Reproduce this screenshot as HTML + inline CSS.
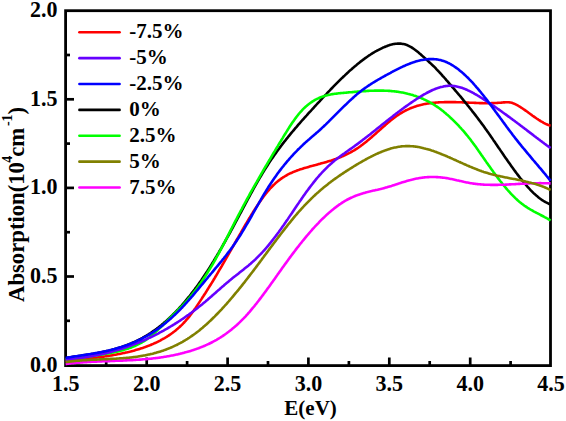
<!DOCTYPE html>
<html><head><meta charset="utf-8"><style>
html,body{margin:0;padding:0;background:#fff;width:566px;height:421px;overflow:hidden}
svg{display:block}
text{font-family:"Liberation Serif",serif;font-weight:bold;fill:#000}
</style></head><body>
<svg width="566" height="421" viewBox="0 0 566 421">
<rect width="566" height="421" fill="#fff"/>
<g stroke="#000" stroke-width="2.7" stroke-linecap="butt"><line x1="146.7" y1="365.6" x2="146.7" y2="357.5"/><line x1="227.6" y1="365.6" x2="227.6" y2="357.5"/><line x1="308.4" y1="365.6" x2="308.4" y2="357.5"/><line x1="389.3" y1="365.6" x2="389.3" y2="357.5"/><line x1="470.2" y1="365.6" x2="470.2" y2="357.5"/><line x1="106.2" y1="365.6" x2="106.2" y2="361"/><line x1="187.1" y1="365.6" x2="187.1" y2="361"/><line x1="268.0" y1="365.6" x2="268.0" y2="361"/><line x1="348.9" y1="365.6" x2="348.9" y2="361"/><line x1="429.7" y1="365.6" x2="429.7" y2="361"/><line x1="510.6" y1="365.6" x2="510.6" y2="361"/><line x1="65.6" y1="276.5" x2="74" y2="276.5"/><line x1="65.6" y1="187.9" x2="74" y2="187.9"/><line x1="65.6" y1="99.3" x2="74" y2="99.3"/><line x1="65.6" y1="320.8" x2="70" y2="320.8"/><line x1="65.6" y1="232.2" x2="70" y2="232.2"/><line x1="65.6" y1="143.6" x2="70" y2="143.6"/><line x1="65.6" y1="55.0" x2="70" y2="55.0"/></g>
<rect x="65.6" y="10.7" width="484.9" height="354.9" fill="none" stroke="#000" stroke-width="2.8"/>
<g fill="none" stroke-width="2.6" stroke-linejoin="round" stroke-linecap="butt">
<path d="M65.6,360.7 L66.6,360.6 L67.6,360.5 L68.6,360.4 L69.6,360.3 L70.6,360.2 L71.6,360.2 L72.6,360.1 L73.6,360.0 L74.6,359.9 L75.6,359.8 L76.6,359.7 L77.6,359.6 L78.6,359.5 L79.6,359.4 L80.6,359.3 L81.6,359.2 L82.6,359.1 L83.6,359.0 L84.6,358.9 L85.6,358.8 L86.6,358.7 L87.6,358.6 L88.6,358.5 L89.6,358.4 L90.6,358.3 L91.6,358.2 L92.6,358.1 L93.6,357.9 L94.6,357.8 L95.6,357.7 L96.6,357.6 L97.6,357.4 L98.6,357.3 L99.6,357.2 L100.6,357.0 L101.6,356.9 L102.6,356.8 L103.6,356.6 L104.6,356.5 L105.6,356.3 L106.6,356.2 L107.6,356.0 L108.6,355.9 L109.6,355.7 L110.6,355.5 L111.6,355.4 L112.6,355.2 L113.6,355.0 L114.6,354.8 L115.6,354.7 L116.6,354.5 L117.6,354.3 L118.6,354.1 L119.6,353.9 L120.6,353.7 L121.6,353.5 L122.6,353.3 L123.6,353.1 L124.6,352.9 L125.6,352.6 L126.6,352.4 L127.6,352.2 L128.6,352.0 L129.6,351.7 L130.6,351.5 L131.6,351.2 L132.6,350.9 L133.6,350.7 L134.6,350.4 L135.6,350.1 L136.6,349.8 L137.6,349.5 L138.6,349.2 L139.6,348.9 L140.6,348.6 L141.6,348.3 L142.6,348.0 L143.6,347.6 L144.6,347.3 L145.6,346.9 L146.6,346.5 L147.6,346.1 L148.6,345.8 L149.6,345.4 L150.6,345.0 L151.6,344.5 L152.6,344.1 L153.6,343.7 L154.6,343.2 L155.6,342.8 L156.6,342.3 L157.6,341.8 L158.6,341.3 L159.6,340.8 L160.6,340.3 L161.6,339.7 L162.6,339.2 L163.6,338.6 L164.6,338.1 L165.6,337.5 L166.6,336.9 L167.6,336.2 L168.6,335.6 L169.6,334.9 L170.6,334.2 L171.6,333.5 L172.6,332.8 L173.6,332.0 L174.6,331.3 L175.6,330.5 L176.6,329.6 L177.6,328.8 L178.6,327.9 L179.6,327.0 L180.6,326.0 L181.6,325.1 L182.6,324.1 L183.6,323.0 L184.6,322.0 L185.6,320.9 L186.6,319.7 L187.6,318.6 L188.6,317.4 L189.6,316.1 L190.6,314.8 L191.6,313.5 L192.6,312.1 L193.6,310.8 L194.6,309.3 L195.6,307.9 L196.6,306.4 L197.6,304.9 L198.6,303.4 L199.6,301.9 L200.6,300.4 L201.6,298.9 L202.6,297.3 L203.6,295.8 L204.6,294.2 L205.6,292.7 L206.6,291.1 L207.6,289.5 L208.6,287.9 L209.6,286.3 L210.6,284.7 L211.6,283.1 L212.6,281.5 L213.6,279.8 L214.6,278.2 L215.6,276.5 L216.6,274.8 L217.6,273.1 L218.6,271.4 L219.6,269.7 L220.6,268.0 L221.6,266.3 L222.6,264.5 L223.6,262.8 L224.6,261.1 L225.6,259.3 L226.6,257.6 L227.6,255.8 L228.6,254.1 L229.6,252.3 L230.6,250.6 L231.6,248.8 L232.6,247.1 L233.6,245.3 L234.6,243.6 L235.6,241.8 L236.6,240.0 L237.6,238.3 L238.6,236.6 L239.6,234.8 L240.6,233.1 L241.6,231.3 L242.6,229.6 L243.6,227.9 L244.6,226.2 L245.6,224.5 L246.6,222.8 L247.6,221.1 L248.6,219.4 L249.6,217.8 L250.6,216.1 L251.6,214.5 L252.6,212.9 L253.6,211.2 L254.6,209.7 L255.6,208.1 L256.6,206.6 L257.6,205.1 L258.6,203.6 L259.6,202.1 L260.6,200.7 L261.6,199.2 L262.6,197.9 L263.6,196.5 L264.6,195.2 L265.6,193.9 L266.6,192.7 L267.6,191.4 L268.6,190.3 L269.6,189.1 L270.6,188.0 L271.6,187.0 L272.6,186.0 L273.6,185.0 L274.6,184.1 L275.6,183.1 L276.6,182.3 L277.6,181.4 L278.6,180.6 L279.6,179.9 L280.6,179.1 L281.6,178.4 L282.6,177.7 L283.6,177.1 L284.6,176.5 L285.6,175.9 L286.6,175.3 L287.6,174.7 L288.6,174.2 L289.6,173.7 L290.6,173.2 L291.6,172.8 L292.6,172.3 L293.6,171.9 L294.6,171.5 L295.6,171.1 L296.6,170.7 L297.6,170.3 L298.6,170.0 L299.6,169.6 L300.6,169.3 L301.6,169.0 L302.6,168.7 L303.6,168.3 L304.6,168.0 L305.6,167.7 L306.6,167.5 L307.6,167.2 L308.6,166.9 L309.6,166.6 L310.6,166.3 L311.6,166.0 L312.6,165.8 L313.6,165.5 L314.6,165.2 L315.6,165.0 L316.6,164.7 L317.6,164.4 L318.6,164.1 L319.6,163.9 L320.6,163.6 L321.6,163.3 L322.6,163.0 L323.6,162.8 L324.6,162.5 L325.6,162.2 L326.6,161.9 L327.6,161.6 L328.6,161.3 L329.6,161.0 L330.6,160.7 L331.6,160.4 L332.6,160.0 L333.6,159.7 L334.6,159.3 L335.6,159.0 L336.6,158.6 L337.6,158.3 L338.6,157.9 L339.6,157.5 L340.6,157.1 L341.6,156.7 L342.6,156.2 L343.6,155.8 L344.6,155.4 L345.6,154.9 L346.6,154.4 L347.6,153.9 L348.6,153.4 L349.6,152.9 L350.6,152.4 L351.6,151.8 L352.6,151.2 L353.6,150.7 L354.6,150.1 L355.6,149.4 L356.6,148.8 L357.6,148.2 L358.6,147.5 L359.6,146.8 L360.6,146.1 L361.6,145.3 L362.6,144.6 L363.6,143.8 L364.6,143.0 L365.6,142.2 L366.6,141.4 L367.6,140.6 L368.6,139.8 L369.6,138.9 L370.6,138.1 L371.6,137.2 L372.6,136.3 L373.6,135.4 L374.6,134.6 L375.6,133.7 L376.6,132.8 L377.6,131.9 L378.6,131.0 L379.6,130.1 L380.6,129.2 L381.6,128.3 L382.6,127.4 L383.6,126.6 L384.6,125.7 L385.6,124.8 L386.6,123.9 L387.6,123.1 L388.6,122.3 L389.6,121.4 L390.6,120.6 L391.6,119.8 L392.6,119.0 L393.6,118.2 L394.6,117.5 L395.6,116.7 L396.6,116.0 L397.6,115.3 L398.6,114.7 L399.6,114.0 L400.6,113.4 L401.6,112.8 L402.6,112.2 L403.6,111.6 L404.6,111.1 L405.6,110.5 L406.6,110.0 L407.6,109.6 L408.6,109.1 L409.6,108.7 L410.6,108.2 L411.6,107.8 L412.6,107.5 L413.6,107.1 L414.6,106.7 L415.6,106.4 L416.6,106.1 L417.6,105.8 L418.6,105.5 L419.6,105.3 L420.6,105.0 L421.6,104.8 L422.6,104.5 L423.6,104.3 L424.6,104.1 L425.6,103.9 L426.6,103.8 L427.6,103.6 L428.6,103.4 L429.6,103.3 L430.6,103.2 L431.6,103.0 L432.6,102.9 L433.6,102.8 L434.6,102.7 L435.6,102.6 L436.6,102.5 L437.6,102.5 L438.6,102.4 L439.6,102.3 L440.6,102.3 L441.6,102.2 L442.6,102.2 L443.6,102.2 L444.6,102.1 L445.6,102.1 L446.6,102.1 L447.6,102.1 L448.6,102.1 L449.6,102.1 L450.6,102.1 L451.6,102.1 L452.6,102.1 L453.6,102.1 L454.6,102.1 L455.6,102.1 L456.6,102.2 L457.6,102.2 L458.6,102.2 L459.6,102.3 L460.6,102.3 L461.6,102.3 L462.6,102.4 L463.6,102.4 L464.6,102.5 L465.6,102.5 L466.6,102.5 L467.6,102.6 L468.6,102.6 L469.6,102.7 L470.6,102.7 L471.6,102.8 L472.6,102.8 L473.6,102.8 L474.6,102.9 L475.6,102.9 L476.6,103.0 L477.6,103.0 L478.6,103.0 L479.6,103.1 L480.6,103.1 L481.6,103.1 L482.6,103.1 L483.6,103.2 L484.6,103.2 L485.6,103.2 L486.6,103.2 L487.6,103.2 L488.6,103.2 L489.6,103.2 L490.6,103.2 L491.6,103.1 L492.6,103.1 L493.6,103.1 L494.6,103.0 L495.6,103.0 L496.6,103.0 L497.6,102.9 L498.6,102.8 L499.6,102.8 L500.6,102.7 L501.6,102.6 L502.6,102.5 L503.6,102.4 L504.6,102.4 L505.6,102.3 L506.6,102.3 L507.6,102.3 L508.6,102.3 L509.6,102.4 L510.6,102.6 L511.6,102.8 L512.6,103.1 L513.6,103.5 L514.6,103.9 L515.6,104.4 L516.6,104.9 L517.6,105.4 L518.6,106.0 L519.6,106.6 L520.6,107.2 L521.6,107.9 L522.6,108.5 L523.6,109.2 L524.6,109.9 L525.6,110.6 L526.6,111.3 L527.6,112.0 L528.6,112.8 L529.6,113.5 L530.6,114.2 L531.6,114.9 L532.6,115.7 L533.6,116.4 L534.6,117.1 L535.6,117.8 L536.6,118.5 L537.6,119.1 L538.6,119.8 L539.6,120.4 L540.6,121.1 L541.6,121.7 L542.6,122.2 L543.6,122.8 L544.6,123.3 L545.6,123.8 L546.6,124.3 L547.6,124.7 L548.6,125.1 L549.6,125.4 L550.6,125.7" stroke="#ff0000"/>
<path d="M65.6,358.0 L66.6,357.8 L67.6,357.7 L68.6,357.5 L69.6,357.4 L70.6,357.2 L71.6,357.1 L72.6,356.9 L73.6,356.8 L74.6,356.6 L75.6,356.5 L76.6,356.3 L77.6,356.2 L78.6,356.0 L79.6,355.9 L80.6,355.7 L81.6,355.6 L82.6,355.4 L83.6,355.3 L84.6,355.1 L85.6,355.0 L86.6,354.8 L87.6,354.7 L88.6,354.5 L89.6,354.4 L90.6,354.2 L91.6,354.0 L92.6,353.9 L93.6,353.7 L94.6,353.5 L95.6,353.3 L96.6,353.2 L97.6,353.0 L98.6,352.8 L99.6,352.6 L100.6,352.4 L101.6,352.2 L102.6,352.0 L103.6,351.8 L104.6,351.6 L105.6,351.4 L106.6,351.1 L107.6,350.9 L108.6,350.7 L109.6,350.4 L110.6,350.2 L111.6,349.9 L112.6,349.6 L113.6,349.4 L114.6,349.1 L115.6,348.8 L116.6,348.5 L117.6,348.2 L118.6,347.9 L119.6,347.6 L120.6,347.3 L121.6,347.0 L122.6,346.6 L123.6,346.3 L124.6,345.9 L125.6,345.6 L126.6,345.2 L127.6,344.8 L128.6,344.4 L129.6,344.0 L130.6,343.6 L131.6,343.2 L132.6,342.7 L133.6,342.3 L134.6,341.8 L135.6,341.4 L136.6,340.9 L137.6,340.4 L138.6,339.9 L139.6,339.4 L140.6,338.9 L141.6,338.3 L142.6,337.8 L143.6,337.2 L144.6,336.7 L145.6,336.1 L146.6,335.5 L147.6,334.9 L148.6,334.3 L149.6,333.6 L150.6,333.0 L151.6,332.3 L152.6,331.6 L153.6,330.9 L154.6,330.2 L155.6,329.5 L156.6,328.8 L157.6,328.0 L158.6,327.3 L159.6,326.5 L160.6,325.7 L161.6,324.9 L162.6,324.0 L163.6,323.2 L164.6,322.3 L165.6,321.5 L166.6,320.6 L167.6,319.7 L168.6,318.8 L169.6,317.8 L170.6,316.9 L171.6,315.9 L172.6,315.0 L173.6,314.0 L174.6,313.0 L175.6,311.9 L176.6,310.9 L177.6,309.8 L178.6,308.8 L179.6,307.7 L180.6,306.6 L181.6,305.5 L182.6,304.3 L183.6,303.2 L184.6,302.0 L185.6,300.8 L186.6,299.6 L187.6,298.4 L188.6,297.2 L189.6,296.0 L190.6,294.7 L191.6,293.4 L192.6,292.1 L193.6,290.8 L194.6,289.5 L195.6,288.1 L196.6,286.8 L197.6,285.4 L198.6,284.0 L199.6,282.6 L200.6,281.2 L201.6,279.8 L202.6,278.3 L203.6,276.8 L204.6,275.3 L205.6,273.8 L206.6,272.3 L207.6,270.8 L208.6,269.2 L209.6,267.6 L210.6,266.0 L211.6,264.4 L212.6,262.8 L213.6,261.2 L214.6,259.5 L215.6,257.8 L216.6,256.2 L217.6,254.5 L218.6,252.8 L219.6,251.0 L220.6,249.3 L221.6,247.6 L222.6,245.8 L223.6,244.0 L224.6,242.3 L225.6,240.5 L226.6,238.7 L227.6,236.9 L228.6,235.1 L229.6,233.3 L230.6,231.5 L231.6,229.6 L232.6,227.8 L233.6,225.9 L234.6,224.1 L235.6,222.2 L236.6,220.4 L237.6,218.5 L238.6,216.6 L239.6,214.7 L240.6,212.8 L241.6,211.0 L242.6,209.1 L243.6,207.2 L244.6,205.3 L245.6,203.4 L246.6,201.6 L247.6,199.7 L248.6,197.8 L249.6,196.0 L250.6,194.2 L251.6,192.3 L252.6,190.5 L253.6,188.7 L254.6,186.9 L255.6,185.1 L256.6,183.3 L257.6,181.6 L258.6,179.9 L259.6,178.1 L260.6,176.5 L261.6,174.8 L262.6,173.1 L263.6,171.5 L264.6,169.9 L265.6,168.3 L266.6,166.7 L267.6,165.2 L268.6,163.6 L269.6,162.1 L270.6,160.6 L271.6,159.1 L272.6,157.7 L273.6,156.2 L274.6,154.8 L275.6,153.4 L276.6,152.0 L277.6,150.6 L278.6,149.3 L279.6,147.9 L280.6,146.6 L281.6,145.2 L282.6,143.9 L283.6,142.6 L284.6,141.3 L285.6,140.1 L286.6,138.8 L287.6,137.6 L288.6,136.3 L289.6,135.1 L290.6,133.9 L291.6,132.7 L292.6,131.5 L293.6,130.3 L294.6,129.1 L295.6,127.9 L296.6,126.8 L297.6,125.6 L298.6,124.4 L299.6,123.3 L300.6,122.2 L301.6,121.0 L302.6,119.9 L303.6,118.8 L304.6,117.7 L305.6,116.6 L306.6,115.5 L307.6,114.3 L308.6,113.2 L309.6,112.1 L310.6,111.1 L311.6,110.0 L312.6,108.9 L313.6,107.8 L314.6,106.7 L315.6,105.6 L316.6,104.5 L317.6,103.4 L318.6,102.3 L319.6,101.3 L320.6,100.2 L321.6,99.1 L322.6,98.0 L323.6,96.9 L324.6,95.9 L325.6,94.8 L326.6,93.8 L327.6,92.7 L328.6,91.6 L329.6,90.6 L330.6,89.5 L331.6,88.5 L332.6,87.5 L333.6,86.4 L334.6,85.4 L335.6,84.4 L336.6,83.4 L337.6,82.4 L338.6,81.4 L339.6,80.4 L340.6,79.4 L341.6,78.4 L342.6,77.5 L343.6,76.5 L344.6,75.6 L345.6,74.6 L346.6,73.7 L347.6,72.8 L348.6,71.8 L349.6,70.9 L350.6,70.0 L351.6,69.2 L352.6,68.3 L353.6,67.4 L354.6,66.6 L355.6,65.7 L356.6,64.9 L357.6,64.0 L358.6,63.2 L359.6,62.4 L360.6,61.6 L361.6,60.9 L362.6,60.1 L363.6,59.4 L364.6,58.6 L365.6,57.9 L366.6,57.2 L367.6,56.5 L368.6,55.8 L369.6,55.1 L370.6,54.5 L371.6,53.8 L372.6,53.2 L373.6,52.6 L374.6,52.0 L375.6,51.4 L376.6,50.9 L377.6,50.3 L378.6,49.8 L379.6,49.3 L380.6,48.8 L381.6,48.3 L382.6,47.8 L383.6,47.4 L384.6,47.0 L385.6,46.5 L386.6,46.2 L387.6,45.8 L388.6,45.4 L389.6,45.1 L390.6,44.8 L391.6,44.6 L392.6,44.3 L393.6,44.1 L394.6,43.9 L395.6,43.8 L396.6,43.7 L397.6,43.6 L398.6,43.6 L399.6,43.6 L400.6,43.6 L401.6,43.7 L402.6,43.9 L403.6,44.1 L404.6,44.3 L405.6,44.6 L406.6,44.9 L407.6,45.3 L408.6,45.8 L409.6,46.3 L410.6,46.8 L411.6,47.4 L412.6,48.1 L413.6,48.8 L414.6,49.5 L415.6,50.2 L416.6,51.0 L417.6,51.8 L418.6,52.6 L419.6,53.5 L420.6,54.3 L421.6,55.2 L422.6,56.1 L423.6,57.0 L424.6,57.9 L425.6,58.8 L426.6,59.7 L427.6,60.6 L428.6,61.5 L429.6,62.5 L430.6,63.4 L431.6,64.3 L432.6,65.3 L433.6,66.2 L434.6,67.2 L435.6,68.2 L436.6,69.3 L437.6,70.3 L438.6,71.4 L439.6,72.5 L440.6,73.5 L441.6,74.6 L442.6,75.8 L443.6,76.9 L444.6,78.0 L445.6,79.1 L446.6,80.3 L447.6,81.4 L448.6,82.6 L449.6,83.8 L450.6,84.9 L451.6,86.1 L452.6,87.3 L453.6,88.4 L454.6,89.6 L455.6,90.8 L456.6,92.0 L457.6,93.2 L458.6,94.3 L459.6,95.5 L460.6,96.7 L461.6,97.9 L462.6,99.1 L463.6,100.4 L464.6,101.6 L465.6,102.8 L466.6,104.0 L467.6,105.3 L468.6,106.5 L469.6,107.8 L470.6,109.0 L471.6,110.3 L472.6,111.6 L473.6,112.8 L474.6,114.1 L475.6,115.4 L476.6,116.7 L477.6,118.0 L478.6,119.4 L479.6,120.7 L480.6,122.0 L481.6,123.4 L482.6,124.7 L483.6,126.1 L484.6,127.5 L485.6,128.9 L486.6,130.3 L487.6,131.7 L488.6,133.1 L489.6,134.6 L490.6,136.0 L491.6,137.4 L492.6,138.9 L493.6,140.4 L494.6,141.8 L495.6,143.3 L496.6,144.7 L497.6,146.2 L498.6,147.7 L499.6,149.1 L500.6,150.6 L501.6,152.1 L502.6,153.5 L503.6,155.0 L504.6,156.5 L505.6,157.9 L506.6,159.3 L507.6,160.8 L508.6,162.2 L509.6,163.6 L510.6,165.0 L511.6,166.4 L512.6,167.8 L513.6,169.2 L514.6,170.6 L515.6,171.9 L516.6,173.3 L517.6,174.6 L518.6,175.9 L519.6,177.2 L520.6,178.5 L521.6,179.7 L522.6,181.0 L523.6,182.2 L524.6,183.4 L525.6,184.5 L526.6,185.7 L527.6,186.8 L528.6,187.9 L529.6,189.0 L530.6,190.1 L531.6,191.1 L532.6,192.1 L533.6,193.1 L534.6,194.0 L535.6,194.9 L536.6,195.8 L537.6,196.6 L538.6,197.5 L539.6,198.3 L540.6,199.0 L541.6,199.7 L542.6,200.4 L543.6,201.0 L544.6,201.6 L545.6,202.2 L546.6,202.7 L547.6,203.2 L548.6,203.7 L549.6,204.1 L550.6,204.4" stroke="#000000"/>
<path d="M65.6,359.5 L66.6,359.4 L67.6,359.2 L68.6,359.1 L69.6,359.0 L70.6,358.8 L71.6,358.7 L72.6,358.6 L73.6,358.5 L74.6,358.3 L75.6,358.2 L76.6,358.1 L77.6,357.9 L78.6,357.8 L79.6,357.7 L80.6,357.6 L81.6,357.4 L82.6,357.3 L83.6,357.2 L84.6,357.1 L85.6,356.9 L86.6,356.8 L87.6,356.7 L88.6,356.5 L89.6,356.4 L90.6,356.3 L91.6,356.1 L92.6,356.0 L93.6,355.8 L94.6,355.7 L95.6,355.6 L96.6,355.4 L97.6,355.3 L98.6,355.1 L99.6,354.9 L100.6,354.8 L101.6,354.6 L102.6,354.5 L103.6,354.3 L104.6,354.1 L105.6,353.9 L106.6,353.8 L107.6,353.6 L108.6,353.4 L109.6,353.2 L110.6,353.0 L111.6,352.8 L112.6,352.6 L113.6,352.4 L114.6,352.1 L115.6,351.9 L116.6,351.7 L117.6,351.4 L118.6,351.2 L119.6,351.0 L120.6,350.7 L121.6,350.5 L122.6,350.2 L123.6,349.9 L124.6,349.6 L125.6,349.3 L126.6,349.0 L127.6,348.7 L128.6,348.4 L129.6,348.0 L130.6,347.7 L131.6,347.3 L132.6,346.9 L133.6,346.5 L134.6,346.1 L135.6,345.7 L136.6,345.2 L137.6,344.7 L138.6,344.2 L139.6,343.7 L140.6,343.2 L141.6,342.6 L142.6,342.0 L143.6,341.4 L144.6,340.8 L145.6,340.1 L146.6,339.4 L147.6,338.7 L148.6,338.0 L149.6,337.2 L150.6,336.4 L151.6,335.6 L152.6,334.7 L153.6,333.9 L154.6,333.0 L155.6,332.1 L156.6,331.1 L157.6,330.2 L158.6,329.2 L159.6,328.2 L160.6,327.3 L161.6,326.3 L162.6,325.3 L163.6,324.3 L164.6,323.3 L165.6,322.3 L166.6,321.4 L167.6,320.4 L168.6,319.4 L169.6,318.4 L170.6,317.5 L171.6,316.5 L172.6,315.5 L173.6,314.5 L174.6,313.5 L175.6,312.5 L176.6,311.6 L177.6,310.5 L178.6,309.5 L179.6,308.5 L180.6,307.5 L181.6,306.4 L182.6,305.4 L183.6,304.3 L184.6,303.2 L185.6,302.1 L186.6,301.0 L187.6,299.9 L188.6,298.7 L189.6,297.5 L190.6,296.3 L191.6,295.1 L192.6,293.9 L193.6,292.6 L194.6,291.3 L195.6,290.0 L196.6,288.7 L197.6,287.4 L198.6,286.0 L199.6,284.6 L200.6,283.2 L201.6,281.7 L202.6,280.2 L203.6,278.7 L204.6,277.2 L205.6,275.7 L206.6,274.1 L207.6,272.5 L208.6,270.9 L209.6,269.3 L210.6,267.6 L211.6,266.0 L212.6,264.3 L213.6,262.5 L214.6,260.8 L215.6,259.0 L216.6,257.2 L217.6,255.4 L218.6,253.6 L219.6,251.7 L220.6,249.8 L221.6,247.9 L222.6,246.0 L223.6,244.1 L224.6,242.2 L225.6,240.2 L226.6,238.3 L227.6,236.3 L228.6,234.4 L229.6,232.4 L230.6,230.4 L231.6,228.5 L232.6,226.5 L233.6,224.6 L234.6,222.6 L235.6,220.7 L236.6,218.8 L237.6,216.8 L238.6,214.9 L239.6,213.0 L240.6,211.1 L241.6,209.3 L242.6,207.4 L243.6,205.5 L244.6,203.7 L245.6,201.8 L246.6,200.0 L247.6,198.2 L248.6,196.4 L249.6,194.5 L250.6,192.7 L251.6,190.9 L252.6,189.2 L253.6,187.4 L254.6,185.6 L255.6,183.8 L256.6,182.1 L257.6,180.3 L258.6,178.6 L259.6,176.8 L260.6,175.1 L261.6,173.4 L262.6,171.7 L263.6,169.9 L264.6,168.2 L265.6,166.5 L266.6,164.8 L267.6,163.1 L268.6,161.4 L269.6,159.8 L270.6,158.1 L271.6,156.4 L272.6,154.7 L273.6,153.0 L274.6,151.4 L275.6,149.7 L276.6,148.0 L277.6,146.4 L278.6,144.7 L279.6,143.0 L280.6,141.4 L281.6,139.7 L282.6,138.1 L283.6,136.4 L284.6,134.8 L285.6,133.2 L286.6,131.6 L287.6,130.0 L288.6,128.4 L289.6,126.8 L290.6,125.3 L291.6,123.8 L292.6,122.3 L293.6,120.9 L294.6,119.5 L295.6,118.1 L296.6,116.8 L297.6,115.5 L298.6,114.2 L299.6,113.0 L300.6,111.9 L301.6,110.8 L302.6,109.7 L303.6,108.7 L304.6,107.7 L305.6,106.8 L306.6,105.9 L307.6,105.1 L308.6,104.2 L309.6,103.5 L310.6,102.8 L311.6,102.1 L312.6,101.4 L313.6,100.8 L314.6,100.2 L315.6,99.6 L316.6,99.1 L317.6,98.6 L318.6,98.2 L319.6,97.7 L320.6,97.3 L321.6,96.9 L322.6,96.6 L323.6,96.2 L324.6,95.9 L325.6,95.6 L326.6,95.4 L327.6,95.1 L328.6,94.9 L329.6,94.7 L330.6,94.5 L331.6,94.3 L332.6,94.1 L333.6,94.0 L334.6,93.8 L335.6,93.7 L336.6,93.6 L337.6,93.5 L338.6,93.3 L339.6,93.2 L340.6,93.1 L341.6,93.0 L342.6,93.0 L343.6,92.9 L344.6,92.8 L345.6,92.7 L346.6,92.6 L347.6,92.5 L348.6,92.4 L349.6,92.3 L350.6,92.2 L351.6,92.2 L352.6,92.1 L353.6,92.0 L354.6,91.9 L355.6,91.8 L356.6,91.7 L357.6,91.6 L358.6,91.6 L359.6,91.5 L360.6,91.4 L361.6,91.3 L362.6,91.3 L363.6,91.2 L364.6,91.1 L365.6,91.1 L366.6,91.0 L367.6,90.9 L368.6,90.9 L369.6,90.8 L370.6,90.8 L371.6,90.7 L372.6,90.7 L373.6,90.7 L374.6,90.6 L375.6,90.6 L376.6,90.6 L377.6,90.6 L378.6,90.6 L379.6,90.6 L380.6,90.6 L381.6,90.6 L382.6,90.6 L383.6,90.6 L384.6,90.7 L385.6,90.7 L386.6,90.7 L387.6,90.8 L388.6,90.9 L389.6,90.9 L390.6,91.0 L391.6,91.1 L392.6,91.2 L393.6,91.3 L394.6,91.4 L395.6,91.5 L396.6,91.6 L397.6,91.8 L398.6,91.9 L399.6,92.1 L400.6,92.2 L401.6,92.4 L402.6,92.6 L403.6,92.8 L404.6,93.0 L405.6,93.2 L406.6,93.4 L407.6,93.7 L408.6,93.9 L409.6,94.2 L410.6,94.5 L411.6,94.7 L412.6,95.0 L413.6,95.4 L414.6,95.7 L415.6,96.0 L416.6,96.4 L417.6,96.7 L418.6,97.1 L419.6,97.5 L420.6,97.9 L421.6,98.3 L422.6,98.7 L423.6,99.2 L424.6,99.6 L425.6,100.1 L426.6,100.6 L427.6,101.1 L428.6,101.6 L429.6,102.2 L430.6,102.7 L431.6,103.3 L432.6,103.9 L433.6,104.5 L434.6,105.1 L435.6,105.8 L436.6,106.4 L437.6,107.1 L438.6,107.8 L439.6,108.5 L440.6,109.3 L441.6,110.1 L442.6,110.8 L443.6,111.6 L444.6,112.5 L445.6,113.3 L446.6,114.2 L447.6,115.0 L448.6,115.9 L449.6,116.8 L450.6,117.8 L451.6,118.7 L452.6,119.6 L453.6,120.6 L454.6,121.6 L455.6,122.6 L456.6,123.6 L457.6,124.6 L458.6,125.7 L459.6,126.8 L460.6,127.8 L461.6,129.0 L462.6,130.1 L463.6,131.2 L464.6,132.4 L465.6,133.6 L466.6,134.8 L467.6,136.0 L468.6,137.3 L469.6,138.5 L470.6,139.8 L471.6,141.2 L472.6,142.5 L473.6,143.9 L474.6,145.2 L475.6,146.6 L476.6,148.0 L477.6,149.4 L478.6,150.9 L479.6,152.3 L480.6,153.7 L481.6,155.2 L482.6,156.6 L483.6,158.1 L484.6,159.5 L485.6,160.9 L486.6,162.4 L487.6,163.8 L488.6,165.2 L489.6,166.6 L490.6,168.0 L491.6,169.4 L492.6,170.8 L493.6,172.2 L494.6,173.5 L495.6,174.9 L496.6,176.2 L497.6,177.6 L498.6,178.9 L499.6,180.2 L500.6,181.5 L501.6,182.7 L502.6,184.0 L503.6,185.2 L504.6,186.5 L505.6,187.6 L506.6,188.8 L507.6,190.0 L508.6,191.1 L509.6,192.2 L510.6,193.3 L511.6,194.4 L512.6,195.4 L513.6,196.4 L514.6,197.4 L515.6,198.4 L516.6,199.3 L517.6,200.2 L518.6,201.1 L519.6,202.0 L520.6,202.8 L521.6,203.6 L522.6,204.3 L523.6,205.1 L524.6,205.8 L525.6,206.4 L526.6,207.1 L527.6,207.8 L528.6,208.4 L529.6,209.0 L530.6,209.6 L531.6,210.1 L532.6,210.7 L533.6,211.3 L534.6,211.8 L535.6,212.3 L536.6,212.9 L537.6,213.4 L538.6,213.9 L539.6,214.4 L540.6,215.0 L541.6,215.5 L542.6,216.0 L543.6,216.5 L544.6,217.1 L545.6,217.6 L546.6,218.2 L547.6,218.7 L548.6,219.3 L549.6,219.9 L550.6,220.5" stroke="#00ff00"/>
<path d="M65.6,359.6 L66.6,359.5 L67.6,359.4 L68.6,359.3 L69.6,359.2 L70.6,359.1 L71.6,359.0 L72.6,358.9 L73.6,358.8 L74.6,358.7 L75.6,358.6 L76.6,358.5 L77.6,358.3 L78.6,358.2 L79.6,358.1 L80.6,357.9 L81.6,357.8 L82.6,357.6 L83.6,357.5 L84.6,357.3 L85.6,357.2 L86.6,357.0 L87.6,356.9 L88.6,356.7 L89.6,356.5 L90.6,356.3 L91.6,356.2 L92.6,356.0 L93.6,355.8 L94.6,355.6 L95.6,355.4 L96.6,355.2 L97.6,355.0 L98.6,354.8 L99.6,354.6 L100.6,354.4 L101.6,354.1 L102.6,353.9 L103.6,353.7 L104.6,353.4 L105.6,353.2 L106.6,353.0 L107.6,352.7 L108.6,352.5 L109.6,352.2 L110.6,351.9 L111.6,351.7 L112.6,351.4 L113.6,351.1 L114.6,350.8 L115.6,350.5 L116.6,350.3 L117.6,350.0 L118.6,349.7 L119.6,349.4 L120.6,349.0 L121.6,348.7 L122.6,348.4 L123.6,348.1 L124.6,347.7 L125.6,347.4 L126.6,347.1 L127.6,346.7 L128.6,346.4 L129.6,346.0 L130.6,345.7 L131.6,345.3 L132.6,344.9 L133.6,344.5 L134.6,344.1 L135.6,343.8 L136.6,343.4 L137.6,343.0 L138.6,342.6 L139.6,342.2 L140.6,341.7 L141.6,341.3 L142.6,340.9 L143.6,340.5 L144.6,340.0 L145.6,339.6 L146.6,339.1 L147.6,338.7 L148.6,338.2 L149.6,337.7 L150.6,337.3 L151.6,336.8 L152.6,336.3 L153.6,335.8 L154.6,335.3 L155.6,334.8 L156.6,334.3 L157.6,333.8 L158.6,333.3 L159.6,332.7 L160.6,332.2 L161.6,331.7 L162.6,331.1 L163.6,330.6 L164.6,330.0 L165.6,329.4 L166.6,328.9 L167.6,328.3 L168.6,327.7 L169.6,327.1 L170.6,326.5 L171.6,325.9 L172.6,325.3 L173.6,324.7 L174.6,324.1 L175.6,323.4 L176.6,322.8 L177.6,322.2 L178.6,321.5 L179.6,320.9 L180.6,320.2 L181.6,319.5 L182.6,318.9 L183.6,318.2 L184.6,317.5 L185.6,316.8 L186.6,316.1 L187.6,315.4 L188.6,314.7 L189.6,313.9 L190.6,313.2 L191.6,312.5 L192.6,311.7 L193.6,311.0 L194.6,310.2 L195.6,309.4 L196.6,308.7 L197.6,307.9 L198.6,307.1 L199.6,306.3 L200.6,305.5 L201.6,304.7 L202.6,303.9 L203.6,303.0 L204.6,302.2 L205.6,301.4 L206.6,300.5 L207.6,299.7 L208.6,298.8 L209.6,297.9 L210.6,297.1 L211.6,296.2 L212.6,295.3 L213.6,294.4 L214.6,293.6 L215.6,292.7 L216.6,291.8 L217.6,290.9 L218.6,290.0 L219.6,289.2 L220.6,288.3 L221.6,287.4 L222.6,286.5 L223.6,285.7 L224.6,284.8 L225.6,283.9 L226.6,283.1 L227.6,282.2 L228.6,281.4 L229.6,280.6 L230.6,279.8 L231.6,278.9 L232.6,278.1 L233.6,277.3 L234.6,276.5 L235.6,275.8 L236.6,275.0 L237.6,274.2 L238.6,273.4 L239.6,272.6 L240.6,271.8 L241.6,271.0 L242.6,270.2 L243.6,269.4 L244.6,268.6 L245.6,267.8 L246.6,267.0 L247.6,266.2 L248.6,265.4 L249.6,264.5 L250.6,263.7 L251.6,262.8 L252.6,261.9 L253.6,261.0 L254.6,260.1 L255.6,259.2 L256.6,258.2 L257.6,257.2 L258.6,256.2 L259.6,255.2 L260.6,254.2 L261.6,253.1 L262.6,252.0 L263.6,250.9 L264.6,249.8 L265.6,248.7 L266.6,247.5 L267.6,246.3 L268.6,245.1 L269.6,243.9 L270.6,242.7 L271.6,241.4 L272.6,240.1 L273.6,238.8 L274.6,237.5 L275.6,236.2 L276.6,234.9 L277.6,233.5 L278.6,232.2 L279.6,230.8 L280.6,229.4 L281.6,228.0 L282.6,226.6 L283.6,225.2 L284.6,223.7 L285.6,222.3 L286.6,220.8 L287.6,219.4 L288.6,217.9 L289.6,216.4 L290.6,214.9 L291.6,213.5 L292.6,212.0 L293.6,210.5 L294.6,209.0 L295.6,207.5 L296.6,206.0 L297.6,204.6 L298.6,203.1 L299.6,201.6 L300.6,200.2 L301.6,198.7 L302.6,197.3 L303.6,195.8 L304.6,194.4 L305.6,193.0 L306.6,191.6 L307.6,190.3 L308.6,188.9 L309.6,187.6 L310.6,186.3 L311.6,185.0 L312.6,183.7 L313.6,182.4 L314.6,181.2 L315.6,179.9 L316.6,178.7 L317.6,177.5 L318.6,176.4 L319.6,175.2 L320.6,174.1 L321.6,173.0 L322.6,171.9 L323.6,170.9 L324.6,169.8 L325.6,168.8 L326.6,167.8 L327.6,166.8 L328.6,165.9 L329.6,165.0 L330.6,164.1 L331.6,163.2 L332.6,162.3 L333.6,161.5 L334.6,160.6 L335.6,159.8 L336.6,159.1 L337.6,158.3 L338.6,157.5 L339.6,156.8 L340.6,156.0 L341.6,155.3 L342.6,154.6 L343.6,153.9 L344.6,153.2 L345.6,152.4 L346.6,151.7 L347.6,151.0 L348.6,150.3 L349.6,149.6 L350.6,148.9 L351.6,148.2 L352.6,147.5 L353.6,146.8 L354.6,146.1 L355.6,145.3 L356.6,144.6 L357.6,143.9 L358.6,143.1 L359.6,142.4 L360.6,141.6 L361.6,140.9 L362.6,140.1 L363.6,139.3 L364.6,138.6 L365.6,137.8 L366.6,137.0 L367.6,136.2 L368.6,135.4 L369.6,134.7 L370.6,133.9 L371.6,133.1 L372.6,132.3 L373.6,131.5 L374.6,130.7 L375.6,129.9 L376.6,129.1 L377.6,128.3 L378.6,127.5 L379.6,126.7 L380.6,125.9 L381.6,125.1 L382.6,124.3 L383.6,123.5 L384.6,122.7 L385.6,121.9 L386.6,121.1 L387.6,120.4 L388.6,119.6 L389.6,118.8 L390.6,118.0 L391.6,117.2 L392.6,116.4 L393.6,115.6 L394.6,114.9 L395.6,114.1 L396.6,113.3 L397.6,112.6 L398.6,111.8 L399.6,111.1 L400.6,110.3 L401.6,109.6 L402.6,108.8 L403.6,108.1 L404.6,107.3 L405.6,106.6 L406.6,105.9 L407.6,105.2 L408.6,104.5 L409.6,103.8 L410.6,103.1 L411.6,102.4 L412.6,101.7 L413.6,101.0 L414.6,100.4 L415.6,99.7 L416.6,99.0 L417.6,98.4 L418.6,97.8 L419.6,97.1 L420.6,96.5 L421.6,95.9 L422.6,95.3 L423.6,94.7 L424.6,94.1 L425.6,93.6 L426.6,93.0 L427.6,92.5 L428.6,92.0 L429.6,91.5 L430.6,91.0 L431.6,90.5 L432.6,90.0 L433.6,89.6 L434.6,89.2 L435.6,88.8 L436.6,88.4 L437.6,88.1 L438.6,87.7 L439.6,87.4 L440.6,87.1 L441.6,86.9 L442.6,86.7 L443.6,86.4 L444.6,86.3 L445.6,86.1 L446.6,86.0 L447.6,85.9 L448.6,85.8 L449.6,85.8 L450.6,85.8 L451.6,85.8 L452.6,85.9 L453.6,86.0 L454.6,86.1 L455.6,86.3 L456.6,86.5 L457.6,86.7 L458.6,86.9 L459.6,87.2 L460.6,87.5 L461.6,87.8 L462.6,88.1 L463.6,88.5 L464.6,88.9 L465.6,89.3 L466.6,89.7 L467.6,90.2 L468.6,90.6 L469.6,91.1 L470.6,91.6 L471.6,92.1 L472.6,92.7 L473.6,93.2 L474.6,93.8 L475.6,94.3 L476.6,94.9 L477.6,95.5 L478.6,96.1 L479.6,96.7 L480.6,97.4 L481.6,98.0 L482.6,98.6 L483.6,99.3 L484.6,99.9 L485.6,100.6 L486.6,101.2 L487.6,101.9 L488.6,102.6 L489.6,103.2 L490.6,103.9 L491.6,104.6 L492.6,105.3 L493.6,105.9 L494.6,106.6 L495.6,107.3 L496.6,108.0 L497.6,108.7 L498.6,109.4 L499.6,110.1 L500.6,110.8 L501.6,111.5 L502.6,112.3 L503.6,113.0 L504.6,113.7 L505.6,114.4 L506.6,115.1 L507.6,115.9 L508.6,116.6 L509.6,117.3 L510.6,118.1 L511.6,118.8 L512.6,119.6 L513.6,120.3 L514.6,121.0 L515.6,121.8 L516.6,122.5 L517.6,123.3 L518.6,124.0 L519.6,124.8 L520.6,125.6 L521.6,126.3 L522.6,127.1 L523.6,127.8 L524.6,128.6 L525.6,129.3 L526.6,130.1 L527.6,130.9 L528.6,131.6 L529.6,132.4 L530.6,133.1 L531.6,133.9 L532.6,134.6 L533.6,135.4 L534.6,136.2 L535.6,136.9 L536.6,137.7 L537.6,138.4 L538.6,139.2 L539.6,139.9 L540.6,140.7 L541.6,141.4 L542.6,142.2 L543.6,142.9 L544.6,143.7 L545.6,144.4 L546.6,145.2 L547.6,145.9 L548.6,146.6 L549.6,147.4 L550.6,148.1" stroke="#6600ff"/>
<path d="M65.6,357.9 L66.6,357.7 L67.6,357.5 L68.6,357.4 L69.6,357.2 L70.6,357.1 L71.6,356.9 L72.6,356.8 L73.6,356.6 L74.6,356.5 L75.6,356.3 L76.6,356.2 L77.6,356.0 L78.6,355.9 L79.6,355.7 L80.6,355.6 L81.6,355.4 L82.6,355.3 L83.6,355.1 L84.6,355.0 L85.6,354.8 L86.6,354.6 L87.6,354.5 L88.6,354.3 L89.6,354.2 L90.6,354.0 L91.6,353.8 L92.6,353.7 L93.6,353.5 L94.6,353.3 L95.6,353.1 L96.6,353.0 L97.6,352.8 L98.6,352.6 L99.6,352.4 L100.6,352.2 L101.6,352.0 L102.6,351.8 L103.6,351.6 L104.6,351.4 L105.6,351.2 L106.6,350.9 L107.6,350.7 L108.6,350.5 L109.6,350.3 L110.6,350.0 L111.6,349.8 L112.6,349.5 L113.6,349.2 L114.6,349.0 L115.6,348.7 L116.6,348.4 L117.6,348.1 L118.6,347.8 L119.6,347.5 L120.6,347.2 L121.6,346.9 L122.6,346.6 L123.6,346.3 L124.6,345.9 L125.6,345.6 L126.6,345.2 L127.6,344.9 L128.6,344.5 L129.6,344.1 L130.6,343.7 L131.6,343.3 L132.6,342.9 L133.6,342.5 L134.6,342.1 L135.6,341.6 L136.6,341.2 L137.6,340.7 L138.6,340.2 L139.6,339.8 L140.6,339.3 L141.6,338.8 L142.6,338.2 L143.6,337.7 L144.6,337.2 L145.6,336.6 L146.6,336.1 L147.6,335.5 L148.6,334.9 L149.6,334.3 L150.6,333.7 L151.6,333.1 L152.6,332.5 L153.6,331.8 L154.6,331.2 L155.6,330.5 L156.6,329.8 L157.6,329.1 L158.6,328.4 L159.6,327.6 L160.6,326.9 L161.6,326.1 L162.6,325.4 L163.6,324.6 L164.6,323.8 L165.6,323.0 L166.6,322.1 L167.6,321.3 L168.6,320.4 L169.6,319.6 L170.6,318.7 L171.6,317.8 L172.6,316.9 L173.6,315.9 L174.6,315.0 L175.6,314.0 L176.6,313.1 L177.6,312.1 L178.6,311.1 L179.6,310.1 L180.6,309.1 L181.6,308.0 L182.6,307.0 L183.6,305.9 L184.6,304.8 L185.6,303.7 L186.6,302.6 L187.6,301.5 L188.6,300.4 L189.6,299.2 L190.6,298.1 L191.6,296.9 L192.6,295.8 L193.6,294.6 L194.6,293.4 L195.6,292.2 L196.6,291.0 L197.6,289.8 L198.6,288.6 L199.6,287.4 L200.6,286.2 L201.6,285.0 L202.6,283.8 L203.6,282.6 L204.6,281.4 L205.6,280.2 L206.6,279.0 L207.6,277.8 L208.6,276.5 L209.6,275.3 L210.6,274.1 L211.6,273.0 L212.6,271.8 L213.6,270.6 L214.6,269.4 L215.6,268.2 L216.6,267.0 L217.6,265.8 L218.6,264.6 L219.6,263.4 L220.6,262.2 L221.6,261.0 L222.6,259.7 L223.6,258.5 L224.6,257.2 L225.6,256.0 L226.6,254.7 L227.6,253.4 L228.6,252.1 L229.6,250.8 L230.6,249.4 L231.6,248.0 L232.6,246.7 L233.6,245.2 L234.6,243.8 L235.6,242.3 L236.6,240.9 L237.6,239.3 L238.6,237.8 L239.6,236.3 L240.6,234.7 L241.6,233.1 L242.6,231.4 L243.6,229.8 L244.6,228.1 L245.6,226.4 L246.6,224.7 L247.6,223.0 L248.6,221.3 L249.6,219.5 L250.6,217.8 L251.6,216.0 L252.6,214.2 L253.6,212.4 L254.6,210.7 L255.6,208.9 L256.6,207.1 L257.6,205.3 L258.6,203.6 L259.6,201.8 L260.6,200.1 L261.6,198.3 L262.6,196.6 L263.6,194.9 L264.6,193.3 L265.6,191.6 L266.6,190.0 L267.6,188.4 L268.6,186.8 L269.6,185.2 L270.6,183.7 L271.6,182.2 L272.6,180.7 L273.6,179.2 L274.6,177.8 L275.6,176.4 L276.6,175.0 L277.6,173.6 L278.6,172.2 L279.6,170.9 L280.6,169.6 L281.6,168.3 L282.6,167.0 L283.6,165.8 L284.6,164.5 L285.6,163.3 L286.6,162.1 L287.6,160.9 L288.6,159.8 L289.6,158.6 L290.6,157.5 L291.6,156.4 L292.6,155.3 L293.6,154.2 L294.6,153.1 L295.6,152.1 L296.6,151.1 L297.6,150.0 L298.6,149.0 L299.6,148.1 L300.6,147.1 L301.6,146.1 L302.6,145.2 L303.6,144.2 L304.6,143.3 L305.6,142.4 L306.6,141.5 L307.6,140.6 L308.6,139.7 L309.6,138.9 L310.6,138.0 L311.6,137.1 L312.6,136.3 L313.6,135.4 L314.6,134.6 L315.6,133.7 L316.6,132.8 L317.6,132.0 L318.6,131.1 L319.6,130.2 L320.6,129.3 L321.6,128.3 L322.6,127.4 L323.6,126.5 L324.6,125.5 L325.6,124.6 L326.6,123.6 L327.6,122.6 L328.6,121.7 L329.6,120.7 L330.6,119.7 L331.6,118.7 L332.6,117.7 L333.6,116.7 L334.6,115.7 L335.6,114.7 L336.6,113.7 L337.6,112.7 L338.6,111.7 L339.6,110.7 L340.6,109.7 L341.6,108.7 L342.6,107.7 L343.6,106.7 L344.6,105.7 L345.6,104.8 L346.6,103.8 L347.6,102.8 L348.6,101.9 L349.6,100.9 L350.6,100.0 L351.6,99.1 L352.6,98.2 L353.6,97.3 L354.6,96.4 L355.6,95.5 L356.6,94.6 L357.6,93.8 L358.6,93.0 L359.6,92.2 L360.6,91.4 L361.6,90.6 L362.6,89.8 L363.6,89.1 L364.6,88.4 L365.6,87.6 L366.6,87.0 L367.6,86.3 L368.6,85.6 L369.6,84.9 L370.6,84.3 L371.6,83.6 L372.6,83.0 L373.6,82.4 L374.6,81.8 L375.6,81.2 L376.6,80.6 L377.6,80.0 L378.6,79.4 L379.6,78.9 L380.6,78.3 L381.6,77.7 L382.6,77.2 L383.6,76.6 L384.6,76.0 L385.6,75.5 L386.6,74.9 L387.6,74.4 L388.6,73.8 L389.6,73.3 L390.6,72.8 L391.6,72.2 L392.6,71.7 L393.6,71.1 L394.6,70.6 L395.6,70.1 L396.6,69.6 L397.6,69.1 L398.6,68.6 L399.6,68.1 L400.6,67.6 L401.6,67.1 L402.6,66.7 L403.6,66.2 L404.6,65.8 L405.6,65.3 L406.6,64.9 L407.6,64.5 L408.6,64.1 L409.6,63.7 L410.6,63.3 L411.6,62.9 L412.6,62.6 L413.6,62.3 L414.6,61.9 L415.6,61.6 L416.6,61.3 L417.6,61.0 L418.6,60.8 L419.6,60.5 L420.6,60.3 L421.6,60.1 L422.6,59.9 L423.6,59.7 L424.6,59.6 L425.6,59.4 L426.6,59.3 L427.6,59.2 L428.6,59.1 L429.6,59.1 L430.6,59.1 L431.6,59.0 L432.6,59.1 L433.6,59.1 L434.6,59.2 L435.6,59.3 L436.6,59.4 L437.6,59.5 L438.6,59.7 L439.6,59.9 L440.6,60.1 L441.6,60.4 L442.6,60.7 L443.6,61.0 L444.6,61.4 L445.6,61.8 L446.6,62.2 L447.6,62.7 L448.6,63.1 L449.6,63.7 L450.6,64.2 L451.6,64.8 L452.6,65.4 L453.6,66.0 L454.6,66.7 L455.6,67.4 L456.6,68.1 L457.6,68.8 L458.6,69.6 L459.6,70.4 L460.6,71.2 L461.6,72.0 L462.6,72.9 L463.6,73.8 L464.6,74.7 L465.6,75.6 L466.6,76.6 L467.6,77.5 L468.6,78.5 L469.6,79.6 L470.6,80.6 L471.6,81.7 L472.6,82.7 L473.6,83.8 L474.6,85.0 L475.6,86.1 L476.6,87.3 L477.6,88.4 L478.6,89.6 L479.6,90.8 L480.6,92.0 L481.6,93.3 L482.6,94.5 L483.6,95.8 L484.6,97.1 L485.6,98.3 L486.6,99.6 L487.6,100.9 L488.6,102.3 L489.6,103.6 L490.6,104.9 L491.6,106.2 L492.6,107.6 L493.6,108.9 L494.6,110.3 L495.6,111.7 L496.6,113.0 L497.6,114.4 L498.6,115.7 L499.6,117.1 L500.6,118.5 L501.6,119.8 L502.6,121.2 L503.6,122.6 L504.6,123.9 L505.6,125.3 L506.6,126.7 L507.6,128.0 L508.6,129.4 L509.6,130.7 L510.6,132.0 L511.6,133.3 L512.6,134.7 L513.6,136.0 L514.6,137.3 L515.6,138.6 L516.6,139.8 L517.6,141.1 L518.6,142.4 L519.6,143.6 L520.6,144.8 L521.6,146.1 L522.6,147.3 L523.6,148.5 L524.6,149.7 L525.6,150.9 L526.6,152.1 L527.6,153.3 L528.6,154.5 L529.6,155.7 L530.6,156.9 L531.6,158.1 L532.6,159.3 L533.6,160.5 L534.6,161.6 L535.6,162.8 L536.6,164.0 L537.6,165.2 L538.6,166.4 L539.6,167.6 L540.6,168.7 L541.6,169.9 L542.6,171.1 L543.6,172.3 L544.6,173.5 L545.6,174.7 L546.6,176.0 L547.6,177.2 L548.6,178.4 L549.6,179.6 L550.6,180.9" stroke="#0000ff"/>
<path d="M65.6,364.0 L66.6,363.9 L67.6,363.8 L68.6,363.6 L69.6,363.5 L70.6,363.4 L71.6,363.3 L72.6,363.2 L73.6,363.1 L74.6,363.0 L75.6,362.9 L76.6,362.8 L77.6,362.8 L78.6,362.7 L79.6,362.6 L80.6,362.5 L81.6,362.4 L82.6,362.4 L83.6,362.3 L84.6,362.2 L85.6,362.2 L86.6,362.1 L87.6,362.0 L88.6,362.0 L89.6,361.9 L90.6,361.9 L91.6,361.8 L92.6,361.8 L93.6,361.7 L94.6,361.7 L95.6,361.6 L96.6,361.6 L97.6,361.5 L98.6,361.5 L99.6,361.4 L100.6,361.4 L101.6,361.4 L102.6,361.3 L103.6,361.3 L104.6,361.2 L105.6,361.2 L106.6,361.2 L107.6,361.1 L108.6,361.1 L109.6,361.1 L110.6,361.0 L111.6,361.0 L112.6,361.0 L113.6,360.9 L114.6,360.9 L115.6,360.8 L116.6,360.8 L117.6,360.8 L118.6,360.7 L119.6,360.7 L120.6,360.6 L121.6,360.6 L122.6,360.6 L123.6,360.5 L124.6,360.5 L125.6,360.4 L126.6,360.4 L127.6,360.3 L128.6,360.3 L129.6,360.2 L130.6,360.2 L131.6,360.1 L132.6,360.1 L133.6,360.0 L134.6,360.0 L135.6,359.9 L136.6,359.8 L137.6,359.8 L138.6,359.7 L139.6,359.6 L140.6,359.6 L141.6,359.5 L142.6,359.4 L143.6,359.3 L144.6,359.2 L145.6,359.2 L146.6,359.1 L147.6,359.0 L148.6,358.9 L149.6,358.8 L150.6,358.7 L151.6,358.6 L152.6,358.5 L153.6,358.3 L154.6,358.2 L155.6,358.1 L156.6,358.0 L157.6,357.9 L158.6,357.7 L159.6,357.6 L160.6,357.5 L161.6,357.3 L162.6,357.2 L163.6,357.0 L164.6,356.8 L165.6,356.7 L166.6,356.5 L167.6,356.3 L168.6,356.2 L169.6,356.0 L170.6,355.8 L171.6,355.6 L172.6,355.4 L173.6,355.2 L174.6,355.0 L175.6,354.8 L176.6,354.6 L177.6,354.4 L178.6,354.1 L179.6,353.9 L180.6,353.6 L181.6,353.4 L182.6,353.1 L183.6,352.9 L184.6,352.6 L185.6,352.3 L186.6,352.1 L187.6,351.8 L188.6,351.5 L189.6,351.2 L190.6,350.9 L191.6,350.6 L192.6,350.3 L193.6,349.9 L194.6,349.6 L195.6,349.3 L196.6,348.9 L197.6,348.5 L198.6,348.2 L199.6,347.8 L200.6,347.4 L201.6,347.0 L202.6,346.6 L203.6,346.2 L204.6,345.8 L205.6,345.3 L206.6,344.9 L207.6,344.4 L208.6,344.0 L209.6,343.5 L210.6,343.0 L211.6,342.5 L212.6,342.0 L213.6,341.4 L214.6,340.9 L215.6,340.3 L216.6,339.8 L217.6,339.2 L218.6,338.6 L219.6,338.0 L220.6,337.4 L221.6,336.7 L222.6,336.1 L223.6,335.4 L224.6,334.7 L225.6,334.0 L226.6,333.3 L227.6,332.5 L228.6,331.8 L229.6,331.0 L230.6,330.2 L231.6,329.4 L232.6,328.6 L233.6,327.8 L234.6,326.9 L235.6,326.1 L236.6,325.2 L237.6,324.3 L238.6,323.3 L239.6,322.4 L240.6,321.4 L241.6,320.4 L242.6,319.4 L243.6,318.4 L244.6,317.3 L245.6,316.3 L246.6,315.2 L247.6,314.1 L248.6,312.9 L249.6,311.8 L250.6,310.6 L251.6,309.4 L252.6,308.2 L253.6,307.0 L254.6,305.8 L255.6,304.5 L256.6,303.3 L257.6,302.0 L258.6,300.7 L259.6,299.4 L260.6,298.1 L261.6,296.8 L262.6,295.4 L263.6,294.1 L264.6,292.7 L265.6,291.4 L266.6,290.0 L267.6,288.6 L268.6,287.3 L269.6,285.9 L270.6,284.5 L271.6,283.1 L272.6,281.7 L273.6,280.3 L274.6,278.9 L275.6,277.5 L276.6,276.1 L277.6,274.6 L278.6,273.2 L279.6,271.8 L280.6,270.4 L281.6,269.0 L282.6,267.6 L283.6,266.2 L284.6,264.8 L285.6,263.4 L286.6,262.1 L287.6,260.7 L288.6,259.3 L289.6,257.9 L290.6,256.6 L291.6,255.2 L292.6,253.9 L293.6,252.6 L294.6,251.3 L295.6,249.9 L296.6,248.6 L297.6,247.3 L298.6,246.1 L299.6,244.8 L300.6,243.5 L301.6,242.3 L302.6,241.0 L303.6,239.8 L304.6,238.6 L305.6,237.4 L306.6,236.2 L307.6,235.0 L308.6,233.8 L309.6,232.7 L310.6,231.5 L311.6,230.4 L312.6,229.2 L313.6,228.1 L314.6,227.0 L315.6,225.9 L316.6,224.9 L317.6,223.8 L318.6,222.8 L319.6,221.7 L320.6,220.7 L321.6,219.7 L322.6,218.7 L323.6,217.8 L324.6,216.8 L325.6,215.9 L326.6,214.9 L327.6,214.0 L328.6,213.1 L329.6,212.3 L330.6,211.4 L331.6,210.6 L332.6,209.7 L333.6,208.9 L334.6,208.1 L335.6,207.4 L336.6,206.6 L337.6,205.9 L338.6,205.1 L339.6,204.4 L340.6,203.8 L341.6,203.1 L342.6,202.4 L343.6,201.8 L344.6,201.2 L345.6,200.6 L346.6,200.0 L347.6,199.5 L348.6,199.0 L349.6,198.5 L350.6,198.0 L351.6,197.5 L352.6,197.1 L353.6,196.6 L354.6,196.2 L355.6,195.8 L356.6,195.4 L357.6,195.1 L358.6,194.7 L359.6,194.4 L360.6,194.1 L361.6,193.7 L362.6,193.4 L363.6,193.1 L364.6,192.9 L365.6,192.6 L366.6,192.3 L367.6,192.1 L368.6,191.8 L369.6,191.6 L370.6,191.3 L371.6,191.1 L372.6,190.8 L373.6,190.6 L374.6,190.4 L375.6,190.1 L376.6,189.9 L377.6,189.7 L378.6,189.4 L379.6,189.2 L380.6,189.0 L381.6,188.7 L382.6,188.5 L383.6,188.2 L384.6,187.9 L385.6,187.6 L386.6,187.4 L387.6,187.1 L388.6,186.8 L389.6,186.5 L390.6,186.2 L391.6,185.9 L392.6,185.5 L393.6,185.2 L394.6,184.9 L395.6,184.6 L396.6,184.2 L397.6,183.9 L398.6,183.6 L399.6,183.3 L400.6,182.9 L401.6,182.6 L402.6,182.3 L403.6,182.0 L404.6,181.7 L405.6,181.4 L406.6,181.1 L407.6,180.8 L408.6,180.5 L409.6,180.2 L410.6,180.0 L411.6,179.7 L412.6,179.5 L413.6,179.2 L414.6,179.0 L415.6,178.8 L416.6,178.6 L417.6,178.4 L418.6,178.2 L419.6,178.0 L420.6,177.9 L421.6,177.7 L422.6,177.6 L423.6,177.5 L424.6,177.4 L425.6,177.3 L426.6,177.2 L427.6,177.1 L428.6,177.1 L429.6,177.0 L430.6,177.0 L431.6,177.0 L432.6,177.0 L433.6,177.0 L434.6,177.0 L435.6,177.0 L436.6,177.1 L437.6,177.1 L438.6,177.2 L439.6,177.3 L440.6,177.4 L441.6,177.5 L442.6,177.6 L443.6,177.7 L444.6,177.8 L445.6,178.0 L446.6,178.1 L447.6,178.3 L448.6,178.5 L449.6,178.7 L450.6,178.9 L451.6,179.1 L452.6,179.3 L453.6,179.5 L454.6,179.7 L455.6,179.9 L456.6,180.2 L457.6,180.4 L458.6,180.6 L459.6,180.9 L460.6,181.1 L461.6,181.3 L462.6,181.5 L463.6,181.8 L464.6,182.0 L465.6,182.2 L466.6,182.4 L467.6,182.6 L468.6,182.8 L469.6,183.0 L470.6,183.2 L471.6,183.3 L472.6,183.5 L473.6,183.6 L474.6,183.8 L475.6,183.9 L476.6,184.0 L477.6,184.1 L478.6,184.2 L479.6,184.3 L480.6,184.4 L481.6,184.5 L482.6,184.5 L483.6,184.6 L484.6,184.7 L485.6,184.7 L486.6,184.8 L487.6,184.8 L488.6,184.8 L489.6,184.8 L490.6,184.9 L491.6,184.9 L492.6,184.9 L493.6,184.9 L494.6,184.9 L495.6,184.9 L496.6,184.9 L497.6,184.9 L498.6,184.8 L499.6,184.8 L500.6,184.8 L501.6,184.8 L502.6,184.7 L503.6,184.7 L504.6,184.7 L505.6,184.6 L506.6,184.6 L507.6,184.5 L508.6,184.5 L509.6,184.4 L510.6,184.4 L511.6,184.3 L512.6,184.3 L513.6,184.2 L514.6,184.2 L515.6,184.1 L516.6,184.0 L517.6,184.0 L518.6,183.9 L519.6,183.9 L520.6,183.8 L521.6,183.8 L522.6,183.7 L523.6,183.7 L524.6,183.6 L525.6,183.6 L526.6,183.5 L527.6,183.5 L528.6,183.4 L529.6,183.4 L530.6,183.3 L531.6,183.3 L532.6,183.3 L533.6,183.2 L534.6,183.2 L535.6,183.2 L536.6,183.2 L537.6,183.2 L538.6,183.2 L539.6,183.1 L540.6,183.1 L541.6,183.2 L542.6,183.2 L543.6,183.2 L544.6,183.2 L545.6,183.2 L546.6,183.3 L547.6,183.3 L548.6,183.3 L549.6,183.4 L550.6,183.4" stroke="#ff00ff"/>
<path d="M65.6,362.2 L66.6,362.0 L67.6,361.9 L68.6,361.7 L69.6,361.6 L70.6,361.5 L71.6,361.4 L72.6,361.2 L73.6,361.1 L74.6,361.0 L75.6,360.9 L76.6,360.8 L77.6,360.7 L78.6,360.7 L79.6,360.6 L80.6,360.5 L81.6,360.4 L82.6,360.3 L83.6,360.3 L84.6,360.2 L85.6,360.1 L86.6,360.1 L87.6,360.0 L88.6,360.0 L89.6,359.9 L90.6,359.8 L91.6,359.8 L92.6,359.7 L93.6,359.7 L94.6,359.6 L95.6,359.6 L96.6,359.6 L97.6,359.5 L98.6,359.5 L99.6,359.4 L100.6,359.4 L101.6,359.3 L102.6,359.3 L103.6,359.3 L104.6,359.2 L105.6,359.2 L106.6,359.1 L107.6,359.1 L108.6,359.0 L109.6,359.0 L110.6,358.9 L111.6,358.9 L112.6,358.8 L113.6,358.8 L114.6,358.7 L115.6,358.7 L116.6,358.6 L117.6,358.5 L118.6,358.5 L119.6,358.4 L120.6,358.3 L121.6,358.3 L122.6,358.2 L123.6,358.1 L124.6,358.0 L125.6,358.0 L126.6,357.9 L127.6,357.8 L128.6,357.7 L129.6,357.6 L130.6,357.5 L131.6,357.4 L132.6,357.2 L133.6,357.1 L134.6,357.0 L135.6,356.9 L136.6,356.7 L137.6,356.6 L138.6,356.4 L139.6,356.3 L140.6,356.1 L141.6,355.9 L142.6,355.8 L143.6,355.6 L144.6,355.4 L145.6,355.2 L146.6,355.0 L147.6,354.8 L148.6,354.6 L149.6,354.4 L150.6,354.1 L151.6,353.9 L152.6,353.7 L153.6,353.4 L154.6,353.1 L155.6,352.9 L156.6,352.6 L157.6,352.3 L158.6,352.0 L159.6,351.7 L160.6,351.4 L161.6,351.1 L162.6,350.7 L163.6,350.4 L164.6,350.0 L165.6,349.7 L166.6,349.3 L167.6,348.9 L168.6,348.5 L169.6,348.1 L170.6,347.7 L171.6,347.3 L172.6,346.8 L173.6,346.4 L174.6,345.9 L175.6,345.4 L176.6,345.0 L177.6,344.5 L178.6,343.9 L179.6,343.4 L180.6,342.9 L181.6,342.3 L182.6,341.8 L183.6,341.2 L184.6,340.6 L185.6,340.0 L186.6,339.4 L187.6,338.8 L188.6,338.1 L189.6,337.5 L190.6,336.8 L191.6,336.1 L192.6,335.4 L193.6,334.7 L194.6,334.0 L195.6,333.3 L196.6,332.5 L197.6,331.7 L198.6,331.0 L199.6,330.2 L200.6,329.3 L201.6,328.5 L202.6,327.7 L203.6,326.8 L204.6,325.9 L205.6,325.1 L206.6,324.2 L207.6,323.3 L208.6,322.3 L209.6,321.4 L210.6,320.5 L211.6,319.5 L212.6,318.5 L213.6,317.5 L214.6,316.6 L215.6,315.5 L216.6,314.5 L217.6,313.5 L218.6,312.5 L219.6,311.4 L220.6,310.3 L221.6,309.3 L222.6,308.2 L223.6,307.1 L224.6,306.0 L225.6,304.9 L226.6,303.8 L227.6,302.6 L228.6,301.5 L229.6,300.3 L230.6,299.2 L231.6,298.0 L232.6,296.8 L233.6,295.6 L234.6,294.4 L235.6,293.2 L236.6,292.0 L237.6,290.8 L238.6,289.6 L239.6,288.3 L240.6,287.1 L241.6,285.9 L242.6,284.6 L243.6,283.3 L244.6,282.1 L245.6,280.8 L246.6,279.5 L247.6,278.2 L248.6,276.9 L249.6,275.6 L250.6,274.3 L251.6,273.0 L252.6,271.7 L253.6,270.4 L254.6,269.0 L255.6,267.7 L256.6,266.4 L257.6,265.0 L258.6,263.7 L259.6,262.4 L260.6,261.0 L261.6,259.7 L262.6,258.3 L263.6,257.0 L264.6,255.6 L265.6,254.3 L266.6,252.9 L267.6,251.6 L268.6,250.2 L269.6,248.9 L270.6,247.5 L271.6,246.2 L272.6,244.9 L273.6,243.5 L274.6,242.2 L275.6,240.9 L276.6,239.5 L277.6,238.2 L278.6,236.9 L279.6,235.6 L280.6,234.3 L281.6,233.0 L282.6,231.7 L283.6,230.4 L284.6,229.1 L285.6,227.8 L286.6,226.6 L287.6,225.3 L288.6,224.0 L289.6,222.8 L290.6,221.6 L291.6,220.3 L292.6,219.1 L293.6,217.9 L294.6,216.7 L295.6,215.5 L296.6,214.4 L297.6,213.2 L298.6,212.0 L299.6,210.9 L300.6,209.8 L301.6,208.7 L302.6,207.6 L303.6,206.5 L304.6,205.4 L305.6,204.4 L306.6,203.3 L307.6,202.3 L308.6,201.3 L309.6,200.3 L310.6,199.3 L311.6,198.3 L312.6,197.4 L313.6,196.4 L314.6,195.5 L315.6,194.5 L316.6,193.6 L317.6,192.7 L318.6,191.9 L319.6,191.0 L320.6,190.1 L321.6,189.3 L322.6,188.4 L323.6,187.6 L324.6,186.8 L325.6,186.0 L326.6,185.2 L327.6,184.4 L328.6,183.6 L329.6,182.8 L330.6,182.1 L331.6,181.3 L332.6,180.6 L333.6,179.8 L334.6,179.1 L335.6,178.4 L336.6,177.7 L337.6,177.0 L338.6,176.3 L339.6,175.6 L340.6,174.9 L341.6,174.2 L342.6,173.6 L343.6,172.9 L344.6,172.2 L345.6,171.6 L346.6,170.9 L347.6,170.3 L348.6,169.7 L349.6,169.0 L350.6,168.4 L351.6,167.8 L352.6,167.2 L353.6,166.5 L354.6,165.9 L355.6,165.3 L356.6,164.7 L357.6,164.1 L358.6,163.5 L359.6,162.9 L360.6,162.4 L361.6,161.8 L362.6,161.2 L363.6,160.6 L364.6,160.1 L365.6,159.5 L366.6,159.0 L367.6,158.4 L368.6,157.9 L369.6,157.4 L370.6,156.9 L371.6,156.3 L372.6,155.8 L373.6,155.3 L374.6,154.9 L375.6,154.4 L376.6,153.9 L377.6,153.5 L378.6,153.0 L379.6,152.6 L380.6,152.2 L381.6,151.8 L382.6,151.4 L383.6,151.0 L384.6,150.6 L385.6,150.2 L386.6,149.9 L387.6,149.6 L388.6,149.2 L389.6,148.9 L390.6,148.6 L391.6,148.3 L392.6,148.1 L393.6,147.8 L394.6,147.6 L395.6,147.4 L396.6,147.2 L397.6,147.0 L398.6,146.8 L399.6,146.7 L400.6,146.5 L401.6,146.4 L402.6,146.3 L403.6,146.2 L404.6,146.2 L405.6,146.1 L406.6,146.1 L407.6,146.1 L408.6,146.1 L409.6,146.1 L410.6,146.2 L411.6,146.2 L412.6,146.3 L413.6,146.4 L414.6,146.5 L415.6,146.6 L416.6,146.8 L417.6,146.9 L418.6,147.1 L419.6,147.3 L420.6,147.5 L421.6,147.7 L422.6,147.9 L423.6,148.2 L424.6,148.4 L425.6,148.7 L426.6,148.9 L427.6,149.2 L428.6,149.5 L429.6,149.8 L430.6,150.1 L431.6,150.5 L432.6,150.8 L433.6,151.1 L434.6,151.5 L435.6,151.8 L436.6,152.2 L437.6,152.6 L438.6,153.0 L439.6,153.4 L440.6,153.8 L441.6,154.2 L442.6,154.6 L443.6,155.0 L444.6,155.4 L445.6,155.8 L446.6,156.2 L447.6,156.7 L448.6,157.1 L449.6,157.5 L450.6,158.0 L451.6,158.4 L452.6,158.9 L453.6,159.3 L454.6,159.8 L455.6,160.2 L456.6,160.7 L457.6,161.1 L458.6,161.6 L459.6,162.0 L460.6,162.5 L461.6,162.9 L462.6,163.4 L463.6,163.8 L464.6,164.3 L465.6,164.7 L466.6,165.2 L467.6,165.6 L468.6,166.0 L469.6,166.5 L470.6,166.9 L471.6,167.3 L472.6,167.7 L473.6,168.1 L474.6,168.5 L475.6,168.9 L476.6,169.3 L477.6,169.7 L478.6,170.1 L479.6,170.5 L480.6,170.8 L481.6,171.2 L482.6,171.5 L483.6,171.9 L484.6,172.2 L485.6,172.5 L486.6,172.8 L487.6,173.1 L488.6,173.4 L489.6,173.7 L490.6,174.0 L491.6,174.2 L492.6,174.5 L493.6,174.7 L494.6,175.0 L495.6,175.2 L496.6,175.5 L497.6,175.7 L498.6,175.9 L499.6,176.1 L500.6,176.4 L501.6,176.6 L502.6,176.8 L503.6,177.0 L504.6,177.2 L505.6,177.4 L506.6,177.6 L507.6,177.8 L508.6,178.0 L509.6,178.2 L510.6,178.4 L511.6,178.6 L512.6,178.7 L513.6,178.9 L514.6,179.1 L515.6,179.3 L516.6,179.5 L517.6,179.7 L518.6,179.9 L519.6,180.1 L520.6,180.3 L521.6,180.6 L522.6,180.8 L523.6,181.0 L524.6,181.2 L525.6,181.5 L526.6,181.7 L527.6,181.9 L528.6,182.2 L529.6,182.4 L530.6,182.7 L531.6,183.0 L532.6,183.2 L533.6,183.5 L534.6,183.8 L535.6,184.1 L536.6,184.4 L537.6,184.8 L538.6,185.1 L539.6,185.4 L540.6,185.8 L541.6,186.1 L542.6,186.5 L543.6,186.9 L544.6,187.3 L545.6,187.7 L546.6,188.1 L547.6,188.6 L548.6,189.0 L549.6,189.5 L550.6,190.0" stroke="#808000"/>
</g>
<g font-size="22"><text transform="translate(57.5,371.6) scale(1,1.06)" text-anchor="end">0.0</text><text transform="translate(57.5,283.0) scale(1,1.06)" text-anchor="end">0.5</text><text transform="translate(57.5,194.4) scale(1,1.06)" text-anchor="end">1.0</text><text transform="translate(57.5,105.8) scale(1,1.06)" text-anchor="end">1.5</text><text transform="translate(57.5,17.2) scale(1,1.06)" text-anchor="end">2.0</text><text transform="translate(65.8,391.2) scale(1,1.06)" text-anchor="middle">1.5</text><text transform="translate(146.7,391.2) scale(1,1.06)" text-anchor="middle">2.0</text><text transform="translate(227.6,391.2) scale(1,1.06)" text-anchor="middle">2.5</text><text transform="translate(308.4,391.2) scale(1,1.06)" text-anchor="middle">3.0</text><text transform="translate(389.3,391.2) scale(1,1.06)" text-anchor="middle">3.5</text><text transform="translate(470.2,391.2) scale(1,1.06)" text-anchor="middle">4.0</text><text transform="translate(551.0,391.2) scale(1,1.06)" text-anchor="middle">4.5</text></g>
<text x="310.6" y="414.7" font-size="21" text-anchor="middle">E(eV)</text>
<text transform="translate(23.8,204.4) rotate(-90)" font-size="22.7" text-anchor="middle">Absorption(10<tspan font-size="14" dx="-0.8" dy="-12">4</tspan><tspan dx="-1" dy="12">cm</tspan><tspan font-size="14" dx="1.8" dy="-12">-1</tspan><tspan dy="12">)</tspan></text>
<g font-size="21"><line x1="79.4" y1="32.30" x2="119.6" y2="32.30" stroke="#ff0000" stroke-width="2.6" stroke-linecap="round"/><text x="129.3" y="38.30">-7.5%</text><line x1="79.4" y1="58.17" x2="119.6" y2="58.17" stroke="#6600ff" stroke-width="2.6" stroke-linecap="round"/><text x="129.3" y="64.17">-5%</text><line x1="79.4" y1="84.04" x2="119.6" y2="84.04" stroke="#0000ff" stroke-width="2.6" stroke-linecap="round"/><text x="129.3" y="90.04">-2.5%</text><line x1="79.4" y1="109.91" x2="119.6" y2="109.91" stroke="#000000" stroke-width="2.6" stroke-linecap="round"/><text x="129.3" y="115.91">0%</text><line x1="79.4" y1="135.78" x2="119.6" y2="135.78" stroke="#00ff00" stroke-width="2.6" stroke-linecap="round"/><text x="129.3" y="141.78">2.5%</text><line x1="79.4" y1="161.65" x2="119.6" y2="161.65" stroke="#808000" stroke-width="2.6" stroke-linecap="round"/><text x="129.3" y="167.65">5%</text><line x1="79.4" y1="187.52" x2="119.6" y2="187.52" stroke="#ff00ff" stroke-width="2.6" stroke-linecap="round"/><text x="129.3" y="193.52">7.5%</text></g>
</svg>
</body></html>
